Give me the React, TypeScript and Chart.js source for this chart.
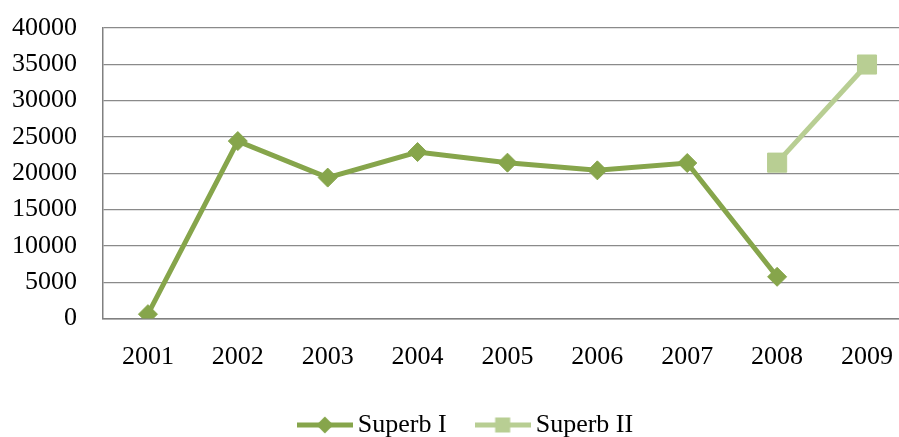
import React, { useEffect, useRef } from 'react';
import { Chart, registerables } from 'chart.js';

Chart.register(...registerables);

const categories = ['2001', '2002', '2003', '2004', '2005', '2006', '2007', '2008', '2009'];
const superbI: (number | null)[] = [600, 24430, 19400, 22920, 21460, 20400, 21410, 5740, null];
const superbII: (number | null)[] = [null, null, null, null, null, null, null, 21460, 34970];
const seriesNames = ['Superb I', 'Superb II'];
const yMin = 0;
const yMax = 40000;
const yStep = 5000;

const colorI = '#86A54B';
const colorII = '#B8CE93';

function makeIcon(color: string, shape: 'diamond' | 'square'): HTMLCanvasElement {
  const c = document.createElement('canvas');
  c.width = 56;
  c.height = 22;
  const ctx = c.getContext('2d')!;
  ctx.strokeStyle = color;
  ctx.lineWidth = 5;
  ctx.beginPath();
  ctx.moveTo(0, 11);
  ctx.lineTo(56, 11);
  ctx.stroke();
  ctx.fillStyle = color;
  if (shape === 'diamond') {
    ctx.beginPath();
    ctx.moveTo(28, 2.5);
    ctx.lineTo(36.5, 11);
    ctx.lineTo(28, 19.5);
    ctx.lineTo(19.5, 11);
    ctx.closePath();
    ctx.fill();
  } else {
    ctx.fillRect(20.5, 3.5, 15, 15);
  }
  return c;
}

const legendShift = {
  id: 'legendShift',
  afterLayout(chart: any) {
    if (chart.legend) {
      chart.legend.left += 7;
      chart.legend.right += 7;
    }
  },
};

export default function App() {
  const ref = useRef<HTMLCanvasElement | null>(null);

  useEffect(() => {
    if (!ref.current) return;
    const icons = [makeIcon(colorI, 'diamond'), makeIcon(colorII, 'square')];
    const font = { family: '"Liberation Serif", "Times New Roman", serif', size: 26 };
    const chart = new Chart(ref.current, {
      type: 'line',
      plugins: [legendShift],
      data: {
        labels: categories,
        datasets: [
          {
            label: seriesNames[0],
            data: superbI,
            borderColor: colorI,
            backgroundColor: colorI,
            borderWidth: 5,
            pointStyle: 'rectRot',
            pointRadius: 9.5,
            pointBorderWidth: 1,
            pointBackgroundColor: colorI,
            pointBorderColor: colorI,
            spanGaps: false,
            tension: 0,
          },
          {
            label: seriesNames[1],
            data: superbII,
            borderColor: colorII,
            backgroundColor: colorII,
            borderWidth: 5,
            pointStyle: 'rect',
            pointRadius: 13.5,
            pointBorderWidth: 1,
            pointBackgroundColor: colorII,
            pointBorderColor: colorII,
            spanGaps: false,
            tension: 0,
          },
        ],
      },
      options: {
        responsive: false,
        animation: false,
        devicePixelRatio: 1,
        layout: { autoPadding: false, padding: { top: 28, left: 8, right: 0, bottom: 0 } },
        font: font,
        color: '#000',
        plugins: {
          tooltip: { enabled: false },
          legend: {
            position: 'bottom',
            labels: {
              usePointStyle: true,
              pointStyleWidth: 40,
              padding: 36,
              color: '#000',
              font: font,
              generateLabels: (ch: any) => {
                const items = Chart.defaults.plugins.legend.labels.generateLabels(ch);
                return items.map((it: any, i: number) => ({ ...it, pointStyle: icons[i] }));
              },
            },
          },
        },
        scales: {
          x: {
            offset: true,
            grid: { display: false, drawTicks: false },
            border: { display: true, color: '#808080', width: 1.5 },
            ticks: { color: '#000', font: font, padding: 23, maxRotation: 0 },
            afterFit: (s: any) => { s.height = 57.5; },
          },
          y: {
            min: yMin,
            max: yMax,
            grid: { color: '#8a8a8a', lineWidth: 1.2, drawTicks: false },
            border: { display: true, color: '#808080', width: 1.5 },
            ticks: {
              stepSize: yStep,
              color: '#000',
              font: font,
              padding: 26,
              callback: (v: any) => String(v),
            },
            afterFit: (s: any) => {
              s.width = 95;
              s.paddingTop = 0;
              s.paddingBottom = 0;
            },
          },
        },
      },
    });
    return () => chart.destroy();
  }, []);

  return (
    <div style={{ position: 'fixed', left: 0, top: 0, width: 899, height: 437, overflow: 'hidden', background: '#fff' }}>
      <canvas ref={ref} width={916} height={448} style={{ display: 'block', width: 916, height: 448 }} />
    </div>
  );
}
